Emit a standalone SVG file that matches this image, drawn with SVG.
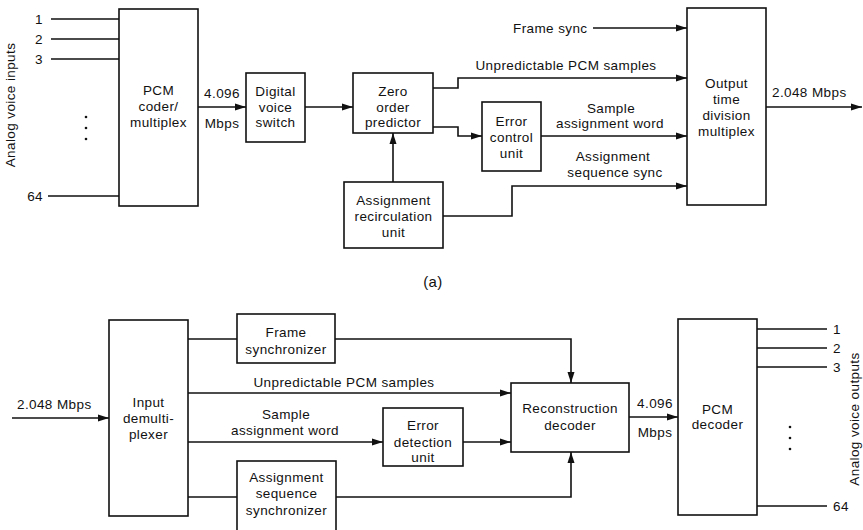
<svg xmlns="http://www.w3.org/2000/svg" width="863" height="530" viewBox="0 0 863 530">
<style>
text{font-family:"Liberation Sans",Arial,sans-serif;font-size:13.5px;letter-spacing:0.4px;fill:#111}
.c{text-anchor:middle}
.e{text-anchor:end}
.box{fill:#fff;stroke:#111;stroke-width:1.6}
.ln{fill:none;stroke:#111;stroke-width:1.6}
.ar{fill:none;stroke:#111;stroke-width:1.6;marker-end:url(#ah)}
</style>
<defs>
<marker id="ah" markerUnits="userSpaceOnUse" markerWidth="11" markerHeight="8" refX="11" refY="4" orient="auto">
<path d="M0,0.5 L11,4 L0,7.5 z" fill="#111"/>
</marker>
</defs>
<rect width="863" height="530" fill="#fff"/>

<g id="connectors">
<!-- top -->
<path class="ln" d="M51,19H119M51,39H119M51,59H119M48,196H119"/>
<path class="ar" d="M198,107H246"/>
<path class="ar" d="M305,107H353"/>
<path class="ar" d="M433,88H458V78H687"/>
<path class="ar" d="M433,127H458V136H482"/>
<path class="ar" d="M541,136H687"/>
<path class="ar" d="M393,182V133"/>
<path class="ar" d="M443,216H512V186H687"/>
<path class="ar" d="M593,28H687"/>
<path class="ar" d="M766,107H862"/>
<!-- bottom -->
<path class="ar" d="M12,418H109"/>
<path class="ln" d="M188,339H237"/>
<path class="ar" d="M335,339H571V383"/>
<path class="ar" d="M188,393H511"/>
<path class="ar" d="M188,442H383"/>
<path class="ar" d="M463,442H511"/>
<path class="ln" d="M188,497H237"/>
<path class="ar" d="M336,497H571V452"/>
<path class="ar" d="M629,417H678"/>
<path class="ln" d="M757,329H827M757,348H827M757,367H827M757,506H827"/>
</g>

<g id="labels">
<text class="e" x="43" y="24">1</text>
<text class="e" x="43" y="44">2</text>
<text class="e" x="43" y="64">3</text>
<text class="e" x="43" y="201">64</text>
<circle cx="86" cy="117" r="1.3" fill="#111"/>
<circle cx="86" cy="128" r="1.3" fill="#111"/>
<circle cx="86" cy="139" r="1.3" fill="#111"/>
<text class="c" transform="translate(15,105) rotate(-90)">Analog voice inputs</text>
<text class="c" x="222" y="98">4.096</text>
<text class="c" x="222" y="128">Mbps</text>
<text x="513" y="33">Frame sync</text>
<text class="c" x="566" y="70">Unpredictable PCM samples</text>
<text class="c" x="611" y="113">Sample</text>
<text class="c" x="610" y="128">assignment word</text>
<text class="c" x="613" y="161">Assignment</text>
<text class="c" x="615" y="177">sequence sync</text>
<text x="772" y="97">2.048 Mbps</text>
<text class="c" x="433" y="287" style="font-size:15px">(a)</text>

<text x="17" y="409">2.048 Mbps</text>
<text class="c" x="344" y="387">Unpredictable PCM samples</text>
<text class="c" x="286" y="419">Sample</text>
<text class="c" x="285" y="435">assignment word</text>
<text class="c" x="655" y="408">4.096</text>
<text class="c" x="655" y="437">Mbps</text>
<text x="833" y="334">1</text>
<text x="833" y="353">2</text>
<text x="833" y="372">3</text>
<text x="833" y="511">64</text>
<circle cx="790" cy="427" r="1.3" fill="#111"/>
<circle cx="790" cy="438" r="1.3" fill="#111"/>
<circle cx="790" cy="449" r="1.3" fill="#111"/>
<text class="c" transform="translate(859,419) rotate(-90)">Analog voice outputs</text>
</g>

<g id="pcm-coder">
<rect class="box" x="119" y="9" width="79" height="197"/>
<text class="c" x="158.5" y="95">PCM</text>
<text class="c" x="158.5" y="111">coder/</text>
<text class="c" x="158.5" y="127">multiplex</text>
</g>
<g id="digital-voice-switch">
<rect class="box" x="246" y="73" width="59" height="69"/>
<text class="c" x="275.5" y="96">Digital</text>
<text class="c" x="275.5" y="112">voice</text>
<text class="c" x="275.5" y="127">switch</text>
</g>
<g id="zero-order-predictor">
<rect class="box" x="353" y="73" width="80" height="60"/>
<text class="c" x="393" y="96">Zero</text>
<text class="c" x="393" y="112">order</text>
<text class="c" x="393" y="127">predictor</text>
</g>
<g id="assignment-recirculation">
<rect class="box" x="344" y="182" width="99" height="66"/>
<text class="c" x="393.5" y="205">Assignment</text>
<text class="c" x="393.5" y="221">recirculation</text>
<text class="c" x="393.5" y="237">unit</text>
</g>
<g id="error-control">
<rect class="box" x="482" y="102" width="59" height="69"/>
<text class="c" x="511.5" y="126">Error</text>
<text class="c" x="511.5" y="142">control</text>
<text class="c" x="511.5" y="158">unit</text>
</g>
<g id="output-tdm">
<rect class="box" x="687" y="8" width="79" height="197"/>
<text class="c" x="726.5" y="88">Output</text>
<text class="c" x="726.5" y="104">time</text>
<text class="c" x="726.5" y="120">division</text>
<text class="c" x="726.5" y="136">multiplex</text>
</g>

<g id="input-demux">
<rect class="box" x="109" y="320" width="79" height="196"/>
<text class="c" x="148.5" y="407">Input</text>
<text class="c" x="148.5" y="423">demulti-</text>
<text class="c" x="148.5" y="439">plexer</text>
</g>
<g id="frame-synchronizer">
<rect class="box" x="237" y="314" width="98" height="49"/>
<text class="c" x="286" y="337">Frame</text>
<text class="c" x="286" y="354">synchronizer</text>
</g>
<g id="assignment-sequence-synchronizer">
<rect class="box" x="237" y="461" width="99" height="80"/>
<text class="c" x="286.5" y="482">Assignment</text>
<text class="c" x="286.5" y="498">sequence</text>
<text class="c" x="286.5" y="515">synchronizer</text>
</g>
<g id="error-detection">
<rect class="box" x="383" y="408" width="80" height="58"/>
<text class="c" x="423" y="430">Error</text>
<text class="c" x="423" y="447">detection</text>
<text class="c" x="423" y="462">unit</text>
</g>
<g id="reconstruction-decoder">
<rect class="box" x="511" y="383" width="118" height="69"/>
<text class="c" x="570" y="413">Reconstruction</text>
<text class="c" x="570" y="430">decoder</text>
</g>
<g id="pcm-decoder">
<rect class="box" x="678" y="319" width="79" height="196"/>
<text class="c" x="717.5" y="414">PCM</text>
<text class="c" x="717.5" y="429">decoder</text>
</g>
</svg>
